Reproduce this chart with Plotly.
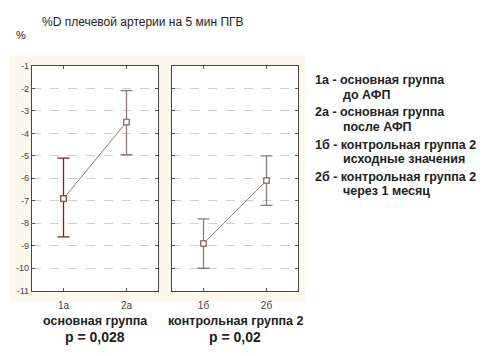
import plotly.graph_objects as go

cats_main = ["1а", "2а"]
mean_main = [-6.9, -3.5]
upper_main = [-5.1, -2.1]
lower_main = [-8.6, -4.95]

cats_ctrl = ["1б", "2б"]
mean_ctrl = [-8.9, -6.1]
upper_ctrl = [-7.8, -5.0]
lower_ctrl = [-10.0, -7.2]

y_ticks = [-1, -2, -3, -4, -5, -6, -7, -8, -9, -10, -11]
y_ticktext = ["-1", "-2", "-3", "-4", "-5", "-6", "-7", "-8", "-9", "-10", "-11"]

title_text = "%D плечевой артерии на 5 мин ПГВ"
group_labels = ["основная группа", "контрольная группа 2"]
p_labels = ["р = 0,028", "р = 0,02"]
legend_lines = [
    "1а - основная группа", "       до АФП",
    "2а - основная группа", "       после АФП",
    "1б - контрольная группа 2", "       исходные значения",
    "2б - контрольная группа 2", "       через 1 месяц",
]

LINE_C = "#8c7d78"
RED_C = "#8b1c1c"
FONT = "Liberation Sans, Arial, sans-serif"

fig = go.Figure()

def add_panel(cats, means, ups, lows, xa, ya, first_color):
    xs = [1, 2]
    fig.add_trace(go.Scatter(x=xs, y=means, mode="lines",
                             line=dict(color=LINE_C, width=1),
                             xaxis=xa, yaxis=ya, showlegend=False, hoverinfo="skip"))
    for i in range(2):
        col = first_color if i == 0 else LINE_C
        fig.add_trace(go.Scatter(
            x=[xs[i]], y=[means[i]], mode="markers",
            marker=dict(symbol="square-open", size=6, color=col, line=dict(width=1)),
            error_y=dict(type="data", symmetric=False,
                         array=[ups[i] - means[i]], arrayminus=[means[i] - lows[i]],
                         color=col, thickness=1.3, width=6),
            xaxis=xa, yaxis=ya, showlegend=False))
        fig.add_trace(go.Scatter(
            x=[xs[i]], y=[means[i]], mode="markers",
            marker=dict(symbol="square", size=5, color="white",
                        line=dict(color=LINE_C, width=1)),
            xaxis=xa, yaxis=ya, showlegend=False, hoverinfo="skip"))

add_panel(cats_main, mean_main, upper_main, lower_main, "x", "y", RED_C)
add_panel(cats_ctrl, mean_ctrl, upper_ctrl, lower_ctrl, "x2", "y2", LINE_C)

tickfont = dict(family=FONT, size=9, color="#444")
yax_common = dict(range=[-11, -1], tickvals=y_ticks, ticktext=y_ticktext, showgrid=True,
                  gridcolor="#cfcfcf", griddash="dash", gridwidth=1,
                  ticks="inside", ticklen=3, tickcolor="#555", mirror="ticks",
                  showline=True, linecolor="#444", linewidth=1.2, zeroline=False,
                  tickfont=tickfont)
xax_common = dict(range=[0.5, 2.5], tickvals=[1, 2], ticks="inside", ticklen=3,
                  tickcolor="#555", mirror="ticks", showline=True, linecolor="#444",
                  linewidth=1.2, showgrid=False, zeroline=False, ticklabelstandoff=5,
                  tickfont=dict(family=FONT, size=10, color="#444"))

top, bot = 1 - 62.7 / 356, 1 - 294 / 356
x1d = [32 / 488, 158 / 488]
x2d = [172 / 488, 298 / 488]
fig.update_layout(
    width=488, height=356,
    margin=dict(l=0, r=0, t=0, b=0),
    paper_bgcolor="white", plot_bgcolor="rgba(0,0,0,0)",
    xaxis=dict(domain=x1d, ticktext=cats_main, anchor="y", **xax_common),
    yaxis=dict(domain=[bot, top], anchor="x", **yax_common),
    xaxis2=dict(domain=x2d, ticktext=cats_ctrl, anchor="y2", **xax_common),
    yaxis2=dict(domain=[bot, top], anchor="x2", showticklabels=False,
                **{k: v for k, v in yax_common.items() if k not in ("tickfont", "ticktext")}),
    font=dict(family=FONT),
)

fig.add_shape(type="rect", xref="paper", yref="paper",
              x0=10 / 488, x1=305 / 488, y0=1 - 305 / 356, y1=1 - 52 / 356,
              fillcolor="#fdf8ec", line=dict(width=0), layer="below")
for d in (x1d, x2d):
    fig.add_shape(type="rect", xref="paper", yref="paper",
                  x0=d[0], x1=d[1], y0=bot, y1=top,
                  fillcolor="white", line=dict(width=0), layer="below")

ann = []
ann.append(dict(text=title_text, x=40 / 488, y=1 - 17 / 356, xanchor="left", yanchor="middle",
                font=dict(size=12, color="#222")))
ann.append(dict(text="%", x=14 / 488, y=1 - 31 / 356, xanchor="left", yanchor="middle",
                font=dict(size=11, color="#222")))
centers = [95, 235]
for c, g, p in zip(centers, group_labels, p_labels):
    ann.append(dict(text="<b>" + g + "</b>", x=c / 488, y=1 - 325 / 356, xanchor="center",
                    yanchor="middle", font=dict(size=12.5, color="#222")))
    ann.append(dict(text="<b>" + p + "</b>", x=c / 488, y=1 - 342 / 356, xanchor="center",
                    yanchor="middle", font=dict(size=14, color="#222")))
ys = [77, 93, 110, 126, 144, 158, 177, 191]
for t, yy in zip(legend_lines, ys):
    ann.append(dict(text="<b>" + t.strip() + "</b>",
                    x=(313 if not t.startswith(" ") else 341) / 488, y=1 - yy / 356,
                    xanchor="left", yanchor="middle", font=dict(size=12.5, color="#222")))
for a in ann:
    a.update(xref="paper", yref="paper", showarrow=False)
fig.update_layout(annotations=ann)

fig.write_html("out.html", config={"displayModeBar": False},
               post_script="document.body.style.margin='0';document.body.style.overflow='hidden';")
